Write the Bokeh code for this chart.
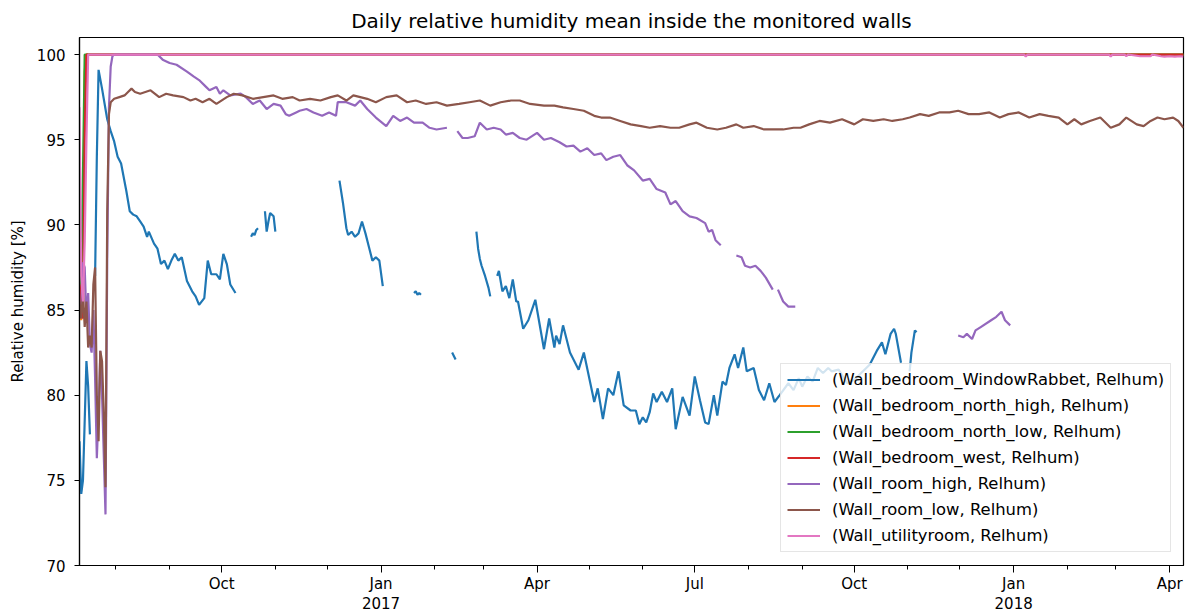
import numpy as np
import pandas as pd
from bokeh.plotting import figure
from bokeh.models import Range1d, FixedTicker, Legend, LegendItem, LinearAxis
from bokeh.embed import file_html
from bokeh.resources import INLINE

# ---------------- data ----------------
title_text = "Daily relative humidity mean inside the monitored walls"
y_label = "Relative humidity [%]"
x_start, x_end = "2016-07-11", "2018-04-09"

major_tick_dates = ["2016-10-01", "2017-01-01", "2017-04-01", "2017-07-01",
                    "2017-10-01", "2018-01-01", "2018-04-01"]
major_tick_labels = ["Oct", "Jan", "Apr", "Jul", "Oct", "Jan", "Apr"]
year_tick_dates = ["2017-01-01", "2018-01-01"]
year_tick_labels = ["2017", "2018"]
minor_tick_dates = ["2016-08-01", "2016-09-01", "2016-11-01", "2016-12-01",
                    "2017-02-01", "2017-03-01", "2017-05-01", "2017-06-01",
                    "2017-08-01", "2017-09-01", "2017-11-01", "2017-12-01",
                    "2018-02-01", "2018-03-01"]
y_ticks = [70, 75, 80, 85, 90, 95, 100]

series_labels = ["(Wall_bedroom_WindowRabbet, Relhum)",
                 "(Wall_bedroom_north_high, Relhum)",
                 "(Wall_bedroom_north_low, Relhum)",
                 "(Wall_bedroom_west, Relhum)",
                 "(Wall_room_high, Relhum)",
                 "(Wall_room_low, Relhum)",
                 "(Wall_utilityroom, Relhum)"]
series_colors = ["#1f77b4", "#ff7f0e", "#2ca02c", "#d62728",
                 "#9467bd", "#8c564b", "#e377c2"]

# Wall_bedroom_WindowRabbet
wr_dates = ["2016-07-11", "2016-07-12", "2016-07-13", "2016-07-14", "2016-07-15", "2016-07-16",
            "2016-07-17", "2016-07-18", "2016-07-20", "2016-07-21", "2016-07-22", "2016-07-24",
            "2016-07-27", "2016-07-29", "2016-07-31", "2016-08-02", "2016-08-04", "2016-08-07",
            "2016-08-09", "2016-08-11", "2016-08-13", "2016-08-15", "2016-08-17", "2016-08-19",
            "2016-08-20", "2016-08-23", "2016-08-25", "2016-08-27", "2016-08-29", "2016-08-31",
            "2016-09-02", "2016-09-04", "2016-09-06", "2016-09-08", "2016-09-11", "2016-09-14",
            "2016-09-16", "2016-09-18", "2016-09-21", "2016-09-23", "2016-09-25", "2016-09-28",
            "2016-09-30", "2016-10-02", "2016-10-04", "2016-10-06", "2016-10-09", "2016-10-10",
            "2016-10-18", "2016-10-19", "2016-10-20", "2016-10-21", "2016-10-22", "2016-10-23",
            "2016-10-26", "2016-10-27", "2016-10-28", "2016-10-29", "2016-10-31", "2016-11-01",
            "2016-11-02",
            "2016-12-08", "2016-12-10", "2016-12-12", "2016-12-13", "2016-12-15", "2016-12-17",
            "2016-12-19", "2016-12-21", "2016-12-23", "2016-12-25", "2016-12-27", "2016-12-29",
            "2016-12-31", "2017-01-02", "2017-01-03",
            "2017-01-20", "2017-01-21", "2017-01-22", "2017-01-23", "2017-01-24", "2017-01-25",
            "2017-02-11", "2017-02-12", "2017-02-13", "2017-02-14",
            "2017-02-25", "2017-02-26", "2017-02-27", "2017-02-28", "2017-03-02", "2017-03-04",
            "2017-03-05", "2017-03-06",
            "2017-03-09", "2017-03-10", "2017-03-12", "2017-03-14", "2017-03-16", "2017-03-18",
            "2017-03-20", "2017-03-21", "2017-03-24", "2017-03-27", "2017-03-31", "2017-04-05",
            "2017-04-08", "2017-04-11", "2017-04-12", "2017-04-14", "2017-04-16", "2017-04-20",
            "2017-04-25", "2017-04-28", "2017-05-03", "2017-05-04", "2017-05-06", "2017-05-09",
            "2017-05-12", "2017-05-15", "2017-05-18", "2017-05-21", "2017-05-25", "2017-05-28",
            "2017-05-30", "2017-06-01", "2017-06-03", "2017-06-05", "2017-06-07", "2017-06-09",
            "2017-06-12", "2017-06-15", "2017-06-18", "2017-06-20", "2017-06-24", "2017-06-28",
            "2017-07-01", "2017-07-04", "2017-07-07", "2017-07-09", "2017-07-12", "2017-07-14",
            "2017-07-17", "2017-07-19", "2017-07-21", "2017-07-24", "2017-07-26", "2017-07-29",
            "2017-07-31", "2017-08-04", "2017-08-07", "2017-08-10", "2017-08-13", "2017-08-16",
            "2017-08-19", "2017-08-24", "2017-08-27", "2017-08-30", "2017-09-01", "2017-09-04",
            "2017-09-07", "2017-09-10", "2017-09-13", "2017-09-16", "2017-09-18", "2017-09-22",
            "2017-09-27", "2017-10-01", "2017-10-05", "2017-10-09", "2017-10-10", "2017-10-14",
            "2017-10-17", "2017-10-19", "2017-10-22", "2017-10-24", "2017-10-25", "2017-10-28",
            "2017-10-29",
            "2017-11-02", "2017-11-03", "2017-11-05", "2017-11-06"]
wr_values = [77.3, 74.2, 75.0, 78.5, 82.0, 80.5,
             77.7, None, 87.0, 94.0, 99.1, 98.0,
             96.2, 95.5, 94.9, 94.0, 93.6, 92.0,
             90.8, 90.6, 90.5, 90.2, 89.9, 89.3,
             89.6, 88.9, 88.6, 87.7, 87.9, 87.4,
             87.9, 88.3, 87.9, 88.1, 86.7, 86.1,
             85.8, 85.3, 85.7, 87.9, 87.1, 87.1,
             86.8, 88.3, 87.7, 86.5, 86.0, None,
             89.3, 89.5, 89.4, 89.7, 89.8, None,
             90.8, 89.6, 90.2, 90.7, 90.5, 89.6,
             None,
             92.6, 91.3, 89.8, 89.4, 89.6, 89.3,
             89.5, 90.2, 89.5, 88.7, 87.9, 88.1,
             87.9, 86.4, None,
             86.0, 86.1, 85.9, 86.0, 85.9, None,
             82.5, 82.3, 82.1, None,
             89.6, 88.6, 88.0, 87.6, 87.0, 86.3,
             85.8, None,
             87.0, 87.3, 86.1, 86.4, 85.7, 86.8,
             85.5, 85.5, 83.9, 84.4, 85.6, 82.7,
             84.5, 82.8, 83.5, 83.0, 84.1, 82.5,
             81.5, 82.5, 80.1, 79.6, 80.4, 78.6,
             80.4, 80.0, 81.4, 79.4, 79.1, 79.1,
             78.3, 78.7, 78.4, 79.0, 80.1, 79.6,
             80.2, 79.6, 80.4, 78.0, 79.9, 78.8,
             81.1, 79.7, 78.4, 78.3, 80.0, 78.8,
             80.8, 80.6, 81.6, 82.4, 81.6, 82.8,
             81.4, 81.6, 80.3, 79.7, 80.7, 79.6,
             80.0, 80.7, 80.3, 81.0, 80.5, 81.1,
             80.8, 81.6, 81.3, 81.6, 81.4, 81.5,
             80.7, 80.9, 81.3, 81.7, 81.8, 82.6,
             83.1, 82.4, 83.6, 83.9, 83.6, 81.9,
             None,
             81.4, 82.5, 83.8, 83.7]

# Wall_bedroom_north_high
nh_dates = ["2016-07-11", "2016-07-12", "2016-07-13", "2016-07-14", "2016-07-15", "2018-04-09"]
nh_values = [86.5, 84.4, 88.0, 99.0, 100.0, 100.0]

# Wall_bedroom_north_low
nl_dates = ["2016-07-11", "2016-07-12", "2016-07-13", "2016-07-14", "2018-04-09"]
nl_values = [89.3, 86.0, 93.0, 100.0, 100.0]

# Wall_bedroom_west
bw_dates = ["2016-07-11", "2016-07-12", "2016-07-13", "2016-07-14", "2016-07-15", "2018-04-09"]
bw_values = [86.5, 85.5, 84.5, 95.0, 100.0, 100.0]

# Wall_room_high
rh_dates = ["2016-07-12", "2016-07-13", "2016-07-14", "2016-07-15", "2016-07-16", "2016-07-17",
            "2016-07-18", "2016-07-19", "2016-07-20", "2016-07-21", "2016-07-22", "2016-07-23",
            "2016-07-24", "2016-07-25", "2016-07-26", "2016-07-27", "2016-07-28", "2016-07-29",
            "2016-07-30", "2016-07-31", "2016-08-25", "2016-08-28", "2016-09-01", "2016-09-05",
            "2016-09-11", "2016-09-15", "2016-09-18", "2016-09-22", "2016-09-24", "2016-09-28",
            "2016-09-30", "2016-10-02", "2016-10-06", "2016-10-12", "2016-10-15", "2016-10-19",
            "2016-10-23", "2016-10-27", "2016-10-31", "2016-11-04", "2016-11-07", "2016-11-09",
            "2016-11-13", "2016-11-15", "2016-11-19", "2016-11-23", "2016-11-28", "2016-12-02",
            "2016-12-06", "2016-12-07", "2016-12-12", "2016-12-17", "2016-12-20", "2016-12-24",
            "2016-12-29", "2017-01-04", "2017-01-08", "2017-01-12", "2017-01-16", "2017-01-20",
            "2017-01-25", "2017-01-29", "2017-02-02", "2017-02-08", "2017-02-10",
            "2017-02-14", "2017-02-17", "2017-02-20", "2017-02-24", "2017-02-27", "2017-03-03",
            "2017-03-07", "2017-03-11", "2017-03-14", "2017-03-18", "2017-03-22", "2017-03-26",
            "2017-04-01", "2017-04-05", "2017-04-09", "2017-04-14", "2017-04-18", "2017-04-22",
            "2017-04-26", "2017-04-30", "2017-05-04", "2017-05-08", "2017-05-11", "2017-05-15",
            "2017-05-19", "2017-05-23", "2017-05-27", "2017-06-01", "2017-06-05", "2017-06-09",
            "2017-06-14", "2017-06-17", "2017-06-20", "2017-06-24", "2017-06-28", "2017-07-02",
            "2017-07-07", "2017-07-09", "2017-07-11", "2017-07-13", "2017-07-16", "2017-07-18",
            "2017-07-25", "2017-07-28", "2017-07-30", "2017-08-02", "2017-08-05", "2017-08-08",
            "2017-08-11", "2017-08-15", "2017-08-16",
            "2017-08-18", "2017-08-21", "2017-08-24", "2017-08-28", "2017-08-29",
            "2017-11-30", "2017-12-03", "2017-12-05", "2017-12-08", "2017-12-10", "2017-12-13",
            "2017-12-19", "2017-12-22", "2017-12-25", "2017-12-27", "2017-12-30"]
rh_values = [85.0, 87.8, 87.5, 84.5, 86.0, 83.0,
             82.5, 85.0, 81.0, 76.3, 79.0, 82.6,
             80.0, 76.5, 73.0, 88.0, 96.9, 99.3,
             99.9, 100.0, 100.0, 99.7, 99.5, 99.4,
             99.0, 98.7, 98.5, 98.1, 97.9, 98.1,
             97.7, 97.9, 97.6, 97.7, 97.5, 97.1,
             97.3, 96.8, 97.1, 97.0, 96.5, 96.4,
             96.6, 96.7, 96.8, 96.6, 96.4, 96.6,
             96.4, 97.2, 97.2, 97.0, 97.3, 96.8,
             96.3, 95.8, 96.4, 96.1, 96.3, 96.0,
             96.0, 95.7, 95.6, 95.7, None,
             95.5, 95.1, 95.1, 95.2, 96.0, 95.6,
             95.7, 95.6, 95.3, 95.4, 95.1, 95.0,
             95.4, 95.0, 95.1, 94.85, 94.6, 94.65,
             94.3, 94.5, 94.1, 94.2, 93.8, 94.0,
             94.1, 93.5, 93.2, 92.6, 92.7, 92.1,
             91.9, 91.2, 91.4, 90.8, 90.5, 90.4,
             90.1, 89.6, 89.7, 89.1, 88.8, None,
             88.2, 88.1, 87.6, 87.5, 87.6, 87.3,
             86.9, 86.2, None,
             86.2, 85.5, 85.2, 85.2, None,
             83.5, 83.4, 83.6, 83.3, 83.8, 84.0,
             84.4, 84.6, 84.9, 84.4, 84.1]

# Wall_room_low
rl_dates = ["2016-07-11", "2016-07-12", "2016-07-13", "2016-07-14", "2016-07-15", "2016-07-16",
            "2016-07-17", "2016-07-18", "2016-07-19", "2016-07-20", "2016-07-21", "2016-07-22",
            "2016-07-23", "2016-07-24", "2016-07-25", "2016-07-26", "2016-07-27", "2016-07-28",
            "2016-07-29", "2016-07-31", "2016-08-03", "2016-08-06", "2016-08-08", "2016-08-10",
            "2016-08-12", "2016-08-15", "2016-08-21", "2016-08-26", "2016-08-30", "2016-09-03",
            "2016-09-09", "2016-09-13", "2016-09-16", "2016-09-20", "2016-09-24", "2016-09-28",
            "2016-10-04", "2016-10-08", "2016-10-13", "2016-10-19", "2016-10-25", "2016-10-31",
            "2016-11-05", "2016-11-11", "2016-11-15", "2016-11-21", "2016-11-27", "2016-12-03",
            "2016-12-07", "2016-12-12", "2016-12-16", "2016-12-24", "2016-12-29", "2017-01-04",
            "2017-01-10", "2017-01-16", "2017-01-21", "2017-01-27", "2017-02-02", "2017-02-08",
            "2017-02-15", "2017-02-21", "2017-02-27", "2017-03-05", "2017-03-11", "2017-03-17",
            "2017-03-22", "2017-03-28", "2017-04-05", "2017-04-11", "2017-04-16", "2017-04-22",
            "2017-04-28", "2017-05-04", "2017-05-08", "2017-05-13", "2017-05-19", "2017-05-25",
            "2017-05-31", "2017-06-05", "2017-06-11", "2017-06-17", "2017-06-22", "2017-06-28",
            "2017-07-02", "2017-07-08", "2017-07-14", "2017-07-19", "2017-07-25", "2017-07-29",
            "2017-08-04", "2017-08-10", "2017-08-15", "2017-08-21", "2017-08-27", "2017-08-31",
            "2017-09-05", "2017-09-11", "2017-09-17", "2017-09-24", "2017-10-01", "2017-10-06",
            "2017-10-12", "2017-10-18", "2017-10-23", "2017-10-29", "2017-11-02", "2017-11-08",
            "2017-11-13", "2017-11-19", "2017-11-25", "2017-11-30", "2017-12-06", "2017-12-12",
            "2017-12-18", "2017-12-24", "2017-12-29", "2018-01-04", "2018-01-10", "2018-01-16",
            "2018-01-21", "2018-01-27", "2018-02-01", "2018-02-05", "2018-02-09", "2018-02-14",
            "2018-02-20", "2018-02-26", "2018-03-03", "2018-03-07", "2018-03-13", "2018-03-17",
            "2018-03-21", "2018-03-25", "2018-03-29", "2018-04-03", "2018-04-06", "2018-04-09"]
rl_values = [85.5, 84.5, 86.0, 84.0, 85.5, 82.8,
             83.5, 82.8, 86.5, 87.5, 80.0, 77.3,
             82.6, 82.0, 79.0, 74.6, 90.8, 96.5,
             97.2, 97.4, 97.5, 97.6, 97.8, 98.0,
             97.8, 97.7, 97.9, 97.5, 97.7, 97.6,
             97.5, 97.3, 97.4, 97.2, 97.4, 97.1,
             97.5, 97.7, 97.6, 97.4, 97.5, 97.6,
             97.4, 97.5, 97.3, 97.4, 97.3, 97.5,
             97.6, 97.3, 97.6, 97.4, 97.2, 97.5,
             97.6, 97.2, 97.3, 97.1, 97.2, 97.0,
             97.1, 97.2, 97.3, 97.0, 97.2, 97.3,
             97.3, 97.1, 97.0, 97.0, 96.9, 96.8,
             96.7, 96.4, 96.3, 96.3, 96.1, 95.9,
             95.8, 95.7, 95.8, 95.7, 95.7, 95.9,
             96.0, 95.7, 95.6, 95.7, 95.9, 95.7,
             95.8, 95.6, 95.6, 95.6, 95.7, 95.7,
             95.9, 96.1, 96.0, 96.2, 95.9, 96.2,
             96.1, 96.2, 96.1, 96.2, 96.3, 96.5,
             96.4, 96.6, 96.6, 96.7, 96.5, 96.5,
             96.6, 96.3, 96.5, 96.6, 96.3, 96.5,
             96.4, 96.3, 95.9, 96.2, 95.9, 96.1,
             96.3, 95.7, 95.9, 96.3, 95.9, 95.8,
             96.1, 96.3, 96.2, 96.3, 96.1, 95.7]

# Wall_utilityroom
ur_dates = ["2016-07-11", "2016-07-12", "2016-07-13", "2016-07-14", "2016-07-15", "2016-07-16",
            "2018-01-07", "2018-01-08", "2018-01-09", "2018-02-25", "2018-02-26", "2018-02-27",
            "2018-03-06", "2018-03-07", "2018-03-08", "2018-03-15", "2018-03-21", "2018-03-22",
            "2018-03-27", "2018-03-29", "2018-04-01", "2018-04-04", "2018-04-07", "2018-04-09"]
ur_values = [96.9, 87.0, 85.5, 89.0, 95.0, 100.0,
             100.0, 99.88, 100.0, 100.0, 99.88, 100.0,
             100.0, 99.9, 100.0, 99.9, 99.9, 100.0,
             99.9, 99.88, 99.9, 99.88, 99.9, 99.88]

series_dates = [wr_dates, nh_dates, nl_dates, bw_dates, rh_dates, rl_dates, ur_dates]
series_values = [wr_values, nh_values, nl_values, bw_values, rh_values, rl_values, ur_values]


# ---------------- helpers ----------------
def to_ms(dates):
    return pd.to_datetime(pd.Series(dates)).values.astype("datetime64[ms]").astype("int64").astype(float)


def to_vals(v):
    return np.array([np.nan if x is None else x for x in v], dtype=float)


FONT = "DejaVu Sans"

p = figure(width=1186, height=613, output_backend="svg", toolbar_location=None,
           x_range=Range1d(to_ms([x_start])[0], to_ms([x_end])[0]),
           y_range=Range1d(70, 101),
           min_border_left=79, min_border_right=3, min_border_top=37, min_border_bottom=48,
           title=title_text)

p.background_fill_color = "white"
p.border_fill_color = "white"
p.outline_line_color = "black"
p.outline_line_width = 1.2
p.outline_line_alpha = 1.0
p.xgrid.visible = False
p.ygrid.visible = False

p.title.text_font = FONT
p.title.text_font_size = "20px"
p.title.text_font_style = "normal"
p.title.text_color = "black"
p.title.align = "center"
p.title.standoff = 9

renderers = []
for d, v, c in zip(series_dates, series_values, series_colors):
    r = p.line(to_ms(d), to_vals(v), line_color=c, line_width=2.2)
    renderers.append(r)

major_ms = list(to_ms(major_tick_dates))
minor_ms = list(to_ms(minor_tick_dates))
year_ms = list(to_ms(year_tick_dates))

xa = p.xaxis[0]
xa.ticker = FixedTicker(ticks=major_ms, minor_ticks=minor_ms)
xa.major_label_overrides = {t: lab for t, lab in zip(major_ms, major_tick_labels)}
ya = p.yaxis[0]
ya.ticker = FixedTicker(ticks=y_ticks, minor_ticks=[])
ya.axis_label = y_label

xyear = LinearAxis(ticker=FixedTicker(ticks=year_ms, minor_ticks=[]),
                   major_label_overrides={t: lab for t, lab in zip(year_ms, year_tick_labels)})
xyear.axis_line_color = None
xyear.major_tick_line_color = None
xyear.minor_tick_line_color = None
xyear.major_tick_out = 0
xyear.minor_tick_out = 0
xyear.major_tick_in = 0
xyear.minor_tick_in = 0
xyear.major_label_standoff = 1
p.add_layout(xyear, "below")

for ax in (xa, ya, xyear):
    ax.major_label_text_font = FONT
    ax.major_label_text_font_size = "15px"
    ax.major_label_text_color = "black"
    ax.axis_label_text_font = FONT
    ax.axis_label_text_font_size = "15px"
    ax.axis_label_text_font_style = "normal"
    ax.axis_label_text_color = "black"

for ax in (xa, ya):
    ax.axis_line_color = "black"
    ax.axis_line_width = 1.2
    ax.major_tick_line_color = "black"
    ax.minor_tick_line_color = "black"
    ax.major_tick_in = 0
    ax.minor_tick_in = 0

xa.major_label_text_line_height = 1.0
xyear.major_label_text_line_height = 1.0
xa.major_tick_out = 7
xa.minor_tick_out = 4
xa.major_label_standoff = 2
ya.major_tick_out = 5
ya.major_label_standoff = 9
ya.axis_label_standoff = 7

items = [LegendItem(label=lab, renderers=[r]) for lab, r in zip(series_labels, renderers)]
legend = Legend(items=items, location=(701, 13))
legend.label_text_font = FONT
legend.label_text_font_size = "16.4px"
legend.label_text_color = "black"
legend.glyph_width = 33
legend.glyph_height = 19
legend.label_height = 19
legend.spacing = 7
legend.padding = 6
legend.label_standoff = 12
legend.margin = 0
legend.border_line_color = "#cccccc"
legend.border_line_width = 1
legend.background_fill_alpha = 0.8
p.add_layout(legend)

open("out.html", "w").write(file_html(p, INLINE))
